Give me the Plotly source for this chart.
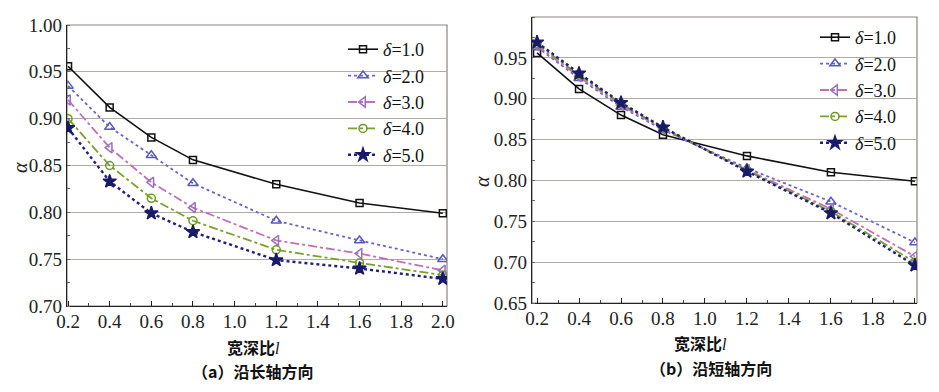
import plotly.graph_objects as go

x_vals = [0.2, 0.4, 0.6, 0.8, 1.2, 1.6, 2.0]
series_names = ["δ=1.0", "δ=2.0", "δ=3.0", "δ=4.0", "δ=5.0"]

# (a) along long axis
a_d1 = [0.956, 0.912, 0.880, 0.856, 0.830, 0.810, 0.799]
a_d2 = [0.935, 0.891, 0.861, 0.831, 0.791, 0.770, 0.750]
a_d3 = [0.920, 0.869, 0.832, 0.805, 0.770, 0.756, 0.738]
a_d4 = [0.900, 0.850, 0.815, 0.791, 0.760, 0.746, 0.733]
a_d5 = [0.890, 0.833, 0.799, 0.779, 0.749, 0.740, 0.729]

# (b) along short axis
b_d1 = [0.956, 0.912, 0.880, 0.856, 0.830, 0.810, 0.799]
b_d2 = [0.963, 0.925, 0.890, 0.862, 0.815, 0.774, 0.724]
b_d3 = [0.965, 0.927, 0.892, 0.863, 0.813, 0.765, 0.707]
b_d4 = [0.967, 0.929, 0.894, 0.864, 0.812, 0.762, 0.700]
b_d5 = [0.969, 0.931, 0.895, 0.865, 0.811, 0.760, 0.696]

y_ticks_a = [0.70, 0.75, 0.80, 0.85, 0.90, 0.95, 1.00]
y_ticks_b = [0.65, 0.70, 0.75, 0.80, 0.85, 0.90, 0.95, 1.00]
x_ticks = [0.2, 0.4, 0.6, 0.8, 1.0, 1.2, 1.4, 1.6, 1.8, 2.0]

SERIF = "Liberation Serif"

styles = [
    dict(color="#111111", dash="solid", symbol="square-open", size=7, width=1.6, mcolor="#111111"),
    dict(color="#6a64c8", dash="dot", symbol="triangle-up-open", size=9, width=1.8, mcolor="#5a58c0"),
    dict(color="#c070b8", dash="dashdot", symbol="triangle-left-open", size=9, width=1.8, mcolor="#9a70c0"),
    dict(color="#7aa030", dash="dashdot", symbol="circle-open", size=8, width=1.8, mcolor="#6c9a20"),
    dict(color="#20207a", dash="dot", symbol="star", size=10, width=2.4, mcolor="#1a1a6a"),
]

fig = go.Figure()
for data, xa, ya, lg in [([a_d1, a_d2, a_d3, a_d4, a_d5], "x", "y", "legend"),
                         ([b_d1, b_d2, b_d3, b_d4, b_d5], "x2", "y2", "legend2")]:
    for name, ys, st in zip(series_names, data, styles):
        fig.add_trace(go.Scatter(
            x=x_vals, y=ys, mode="lines+markers", xaxis=xa, yaxis=ya, legend=lg,
            name="<i>δ</i>=" + name.split("=")[1],
            line=dict(color=st["color"], dash=st["dash"], width=st["width"]),
            marker=dict(symbol=st["symbol"], size=st["size"], color=st["mcolor"],
                        line=dict(color=st["mcolor"], width=1.5)),
        ))

# page body has an 8px margin; lay out in reference pixel coordinates
OFF = 8
W, H = 939 - 2 * OFF, 392 - 2 * OFF
def px_x(p): return (p - OFF) / W
def px_y(p): return 1 - (p - OFF) / H

tickfont = dict(family=SERIF, size=19, color="#222222")
grid = "#b4aaa4"

common_x = dict(tickvals=x_ticks, ticktext=[f"{v:.1f}" for v in x_ticks], tickfont=tickfont,
                showgrid=False, zeroline=False, showline=True, linecolor="#222222", linewidth=1.2,
                ticks="inside", ticklen=5, tickcolor="#222222", automargin=False,
                ticklabelstandoff=-2,
                minor=dict(dtick=0.1, tick0=0.2, ticks="inside", ticklen=3, tickcolor="#444444"))
common_y = dict(tickfont=tickfont, showgrid=True, gridcolor=grid, gridwidth=1.3, zeroline=False,
                showline=True, linecolor="#222222", linewidth=1.2, ticks="", automargin=False,
                minor=dict(dtick=0.025, ticks="inside", ticklen=3, tickcolor="#666666", showgrid=False))

legfont = dict(family=SERIF, size=18, color="#111111")
fig.update_layout(
    width=W, height=H, margin=dict(l=0, r=0, t=0, b=0),
    paper_bgcolor="white", plot_bgcolor="white",
    xaxis=dict(domain=[px_x(67), px_x(447)], range=[0.195, 2.02], anchor="y", **common_x),
    yaxis=dict(domain=[px_y(306), px_y(25)], range=[0.70, 1.00], anchor="x",
               tickvals=y_ticks_a, ticktext=[f"{v:.2f}" for v in y_ticks_a], **common_y),
    xaxis2=dict(domain=[px_x(532), px_x(917)], range=[0.176, 2.01], anchor="y2", **common_x),
    yaxis2=dict(domain=[px_y(303), px_y(17)], range=[0.65, 1.00], anchor="x2",
                tickvals=y_ticks_b, ticktext=[f"{v:.2f}" for v in y_ticks_b], **common_y),
    legend=dict(x=px_x(430), y=px_y(31), xanchor="right", yanchor="top", bgcolor="rgba(0,0,0,0)",
                font=legfont, tracegroupgap=0),
    legend2=dict(x=px_x(902), y=px_y(19), xanchor="right", yanchor="top", bgcolor="rgba(0,0,0,0)",
                 font=legfont, tracegroupgap=0),
    showlegend=True,
)

# plot area borders (top/right in gray)
for (x0, x1, y0, y1) in [(67, 447, 25, 306), (532, 917, 17, 303)]:
    fig.add_shape(type="rect", xref="paper", yref="paper",
                  x0=px_x(x0), x1=px_x(x1), y0=px_y(y1), y1=px_y(y0),
                  line=dict(color="#8a8480", width=1.2), layer="below")

ann_font_cn = dict(family="Noto Sans CJK SC", size=16, color="#111111")
annotations = [
    dict(text="<i>α</i>", x=px_x(20), y=px_y(168), font=dict(family=SERIF, size=20, color="#222"), textangle=-90),
    dict(text="<i>α</i>", x=px_x(482), y=px_y(182), font=dict(family=SERIF, size=20, color="#222"), textangle=-90),
    dict(text="<b>宽深比</b><i><span style='font-family:Liberation Serif'>l</span></i>", x=px_x(253), y=px_y(347), font=ann_font_cn),
    dict(text="<b>宽深比</b><i><span style='font-family:Liberation Serif'>l</span></i>", x=px_x(700), y=px_y(343), font=ann_font_cn),
    dict(text="<b>（a）沿长轴方向</b>", x=px_x(252), y=px_y(371), font=ann_font_cn),
    dict(text="<b>（b）沿短轴方向</b>", x=px_x(711), y=px_y(368), font=ann_font_cn),
]
for a in annotations:
    fig.add_annotation(xref="paper", yref="paper", showarrow=False, xanchor="center", yanchor="middle", **a)

fig.write_html("out.html")
